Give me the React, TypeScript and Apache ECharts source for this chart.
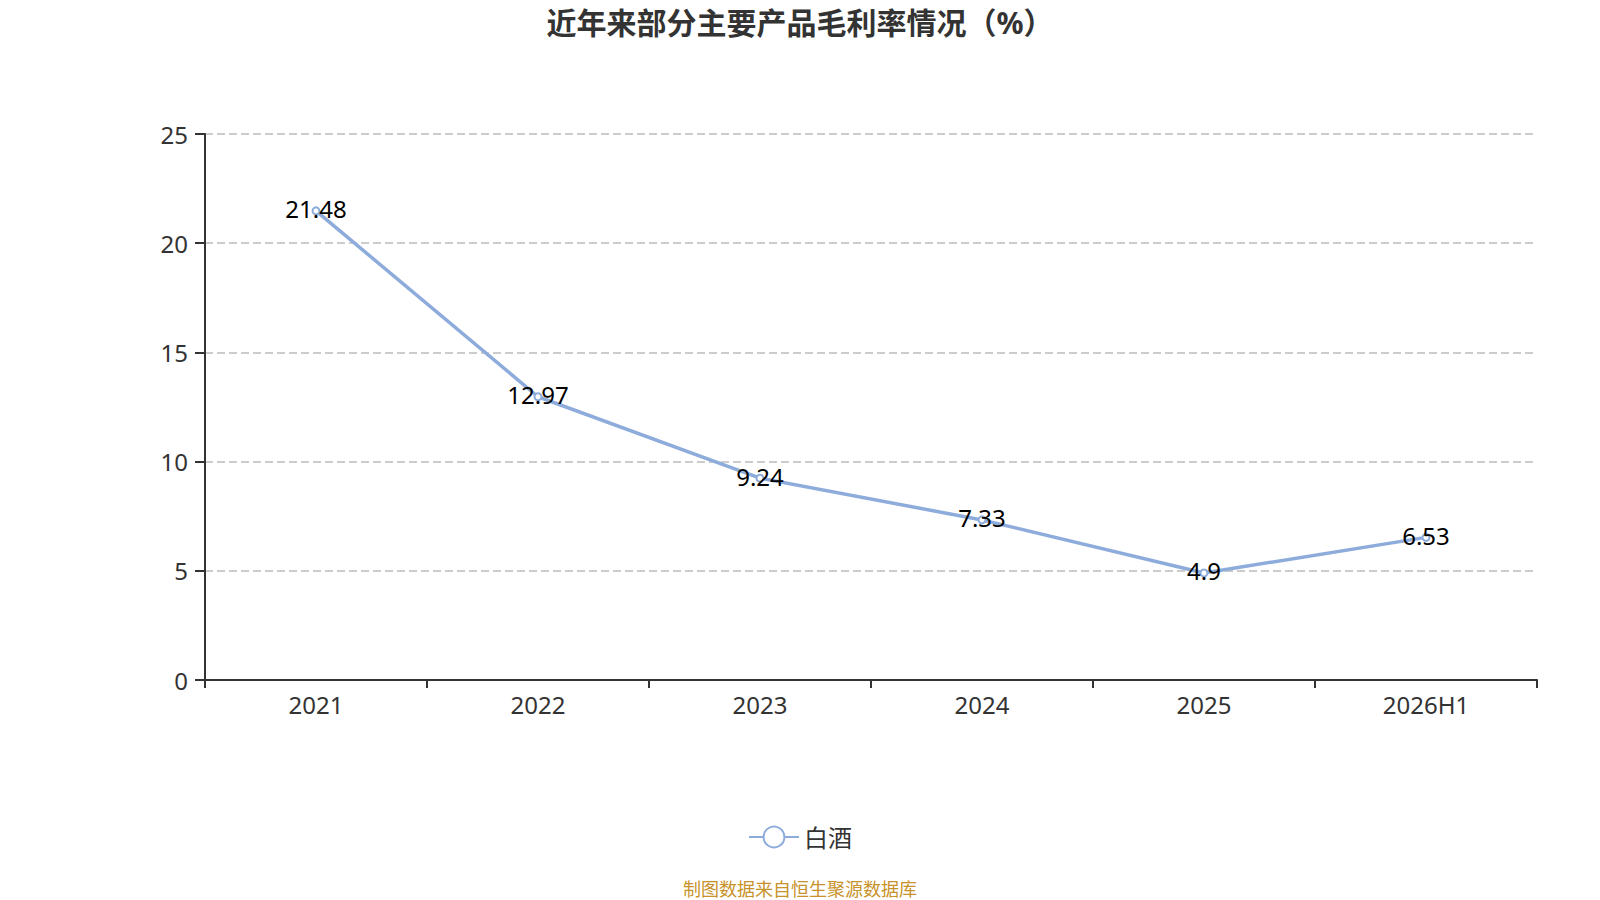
import React, { useEffect, useRef } from "react";
import * as echarts from "echarts";

const categories = ["2021", "2022", "2023", "2024", "2025", "2026H1"];
const baijiu = [21.48, 12.97, 9.24, 7.33, 4.9, 6.53];
const seriesName = "白酒";
const titleText = "近年来部分主要产品毛利率情况（%）";
const footerText = "制图数据来自恒生聚源数据库";

export default function App() {
  const ref = useRef<HTMLDivElement>(null);
  useEffect(() => {
    if (!ref.current) return;
    const chart = echarts.init(ref.current, undefined, { renderer: "svg" });
    const font = "'Noto Sans', 'Noto Sans CJK SC', sans-serif";
    chart.setOption({
      animation: false,
      backgroundColor: "#ffffff",
      textStyle: { fontFamily: font },
      title: {
        text: titleText,
        left: "center",
        top: 2,
        textStyle: { fontSize: 30, fontWeight: "bold", color: "#333333", fontFamily: font },
      },
      legend: {
        data: [seriesName],
        bottom: 46,
        left: "center",
        itemWidth: 50,
        itemHeight: 26,
        itemGap: 10,
        textStyle: { fontSize: 24, color: "#333333", fontFamily: font },
      },
      graphic: [
        {
          type: "text",
          left: "center",
          top: 880,
          style: { text: footerText, fontSize: 18, fill: "#c8922a", fontFamily: font },
        },
      ],
      grid: { left: 205, right: 63, top: 134, bottom: 220, containLabel: false },
      xAxis: {
        type: "category",
        data: categories,
        boundaryGap: true,
        axisLine: { lineStyle: { color: "#333333", width: 2 } },
        axisTick: { show: true, length: 8, lineStyle: { color: "#333333", width: 2 } },
        axisLabel: { fontSize: 24, color: "#333333", margin: 12, fontFamily: font },
      },
      yAxis: {
        type: "value",
        min: 0,
        max: 25,
        interval: 5,
        axisLine: { show: true, lineStyle: { color: "#333333", width: 2 } },
        axisTick: { show: true, length: 10, lineStyle: { color: "#333333", width: 2 } },
        axisLabel: { fontSize: 24, color: "#333333", margin: 17, fontFamily: font },
        splitLine: { show: true, lineStyle: { color: "#cccccc", type: "dashed", width: 2 } },
      },
      series: [
        {
          name: seriesName,
          type: "line",
          data: baijiu,
          symbol: "emptyCircle",
          symbolSize: 7,
          itemStyle: { color: "#8eacdb" },
          lineStyle: { color: "#8eacdb", width: 3.5 },
          label: {
            show: true,
            position: "inside",
            offset: [0, -2],
            fontSize: 24,
            color: "#000000",
            fontFamily: font,
          },
        },
      ],
    });
    return () => chart.dispose();
  }, []);
  return (
    <div
      ref={ref}
      style={{ position: "absolute", left: 0, top: 0, width: 1600, height: 900 }}
    />
  );
}
